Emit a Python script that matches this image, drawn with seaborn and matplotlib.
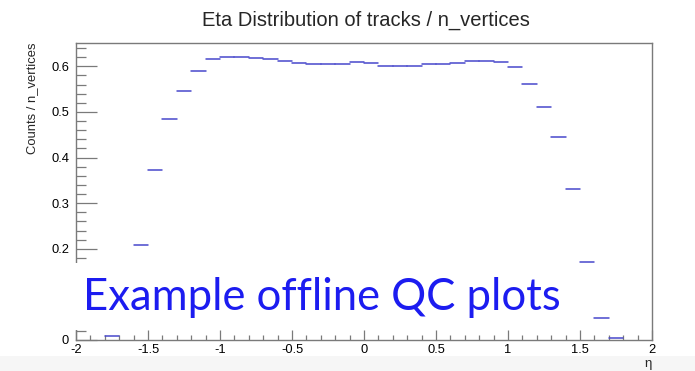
import numpy as np
import pandas as pd
import matplotlib
matplotlib.use("Agg")
import matplotlib.pyplot as plt
from matplotlib.patches import Rectangle
from matplotlib.ticker import MultipleLocator, FuncFormatter
import seaborn as sns

# Track pseudorapidity histogram, normalised to the number of vertices
eta_min = -2.0
eta_max = 2.0
n_bins = 40
counts_per_vertex = [
    0.0, 0.0, 0.008, 0.045, 0.209, 0.373, 0.484, 0.546, 0.589, 0.615,
    0.620, 0.620, 0.619, 0.615, 0.612, 0.608, 0.605, 0.604, 0.604, 0.609,
    0.608, 0.601, 0.601, 0.601, 0.604, 0.606, 0.608, 0.611, 0.611, 0.609,
    0.598, 0.562, 0.510, 0.446, 0.332, 0.172, 0.048, 0.004, 0.0, 0.0,
]
x_ticks = [-2, -1.5, -1, -0.5, 0, 0.5, 1, 1.5, 2]
y_ticks = [0, 0.1, 0.2, 0.3, 0.4, 0.5, 0.6]

title = "Eta Distribution of tracks / n_vertices"
y_title = "Counts / n_vertices"
x_title = "η"
banner_text = "Example offline QC plots"

edges = np.linspace(eta_min, eta_max, n_bins + 1)

# one horizontal segment per filled bin (empty bins are not drawn)
rows = []
for i, v in enumerate(counts_per_vertex):
    if v <= 0:
        continue
    rows.append({"eta": edges[i], "value": v, "bin": i})
    rows.append({"eta": edges[i + 1], "value": v, "bin": i})
df = pd.DataFrame(rows)

sns.set_theme(style="white")
plt.rcParams["font.family"] = ["Liberation Sans", "DejaVu Sans"]
plt.rcParams["axes.unicode_minus"] = False

W, H = 695, 371
fig = plt.figure(figsize=(W / 100, H / 100), dpi=100)
fig.patch.set_facecolor("white")
ax = fig.add_axes([76 / W, 1 - 340 / H, (652 - 76) / W, (340 - 43) / H])

sns.lineplot(data=df, x="eta", y="value", units="bin", estimator=None,
             color="#4848cc", linewidth=1.1, ax=ax, legend=False)

ax.set_xlim(eta_min, eta_max)
ax.set_ylim(0, 0.651)
ax.set_xlabel("")
ax.set_ylabel("")

frame_col = "#7a7a7a"
for s in ax.spines.values():
    s.set_visible(True)
    s.set_color(frame_col)
    s.set_linewidth(1.0)

ax.set_xticks(x_ticks)
ax.set_yticks(y_ticks)
ax.xaxis.set_minor_locator(MultipleLocator(0.1))
ax.yaxis.set_minor_locator(MultipleLocator(0.02))
fmt = FuncFormatter(lambda v, p: f"{v:g}")
ax.xaxis.set_major_formatter(fmt)
ax.yaxis.set_major_formatter(fmt)

ax.tick_params(axis="y", which="major", direction="in", length=15, width=0.9,
               color=frame_col, left=True, right=False, pad=5, labelsize=9.3,
               labelcolor="black")
ax.tick_params(axis="y", which="minor", direction="in", length=7.2, width=0.9,
               color=frame_col, left=True, right=False)
ax.tick_params(axis="x", which="major", direction="in", length=7.2, width=0.9,
               color=frame_col, bottom=True, top=False, pad=3, labelsize=9.3,
               labelcolor="black")
ax.tick_params(axis="x", which="minor", direction="in", length=3.6, width=0.9,
               color=frame_col, bottom=True, top=False)

fig.text(366 / W, 1 - 20 / H, title, ha="center", va="center", fontsize=14.5)
fig.text(32 / W, 1 - 43 / H, y_title, rotation=90, ha="center", va="top",
         fontsize=9.4)
fig.text(652 / W, 1 - 364 / H, x_title, ha="right", va="center", fontsize=9.5)

# light band along the lower edge
fig.add_artist(Rectangle((0, 0), 1, 15 / H, transform=fig.transFigure,
                         facecolor="#f6f6f6", edgecolor="none", zorder=-1))

# white label panel with the banner text
fig.add_artist(Rectangle((0, 1 - 330 / H), 575 / W, (330 - 263) / H,
                         transform=fig.transFigure, facecolor="white",
                         edgecolor="none", zorder=5))
banner = fig.text(83 / W, 1 - 310 / H, banner_text, color="#1c1cf0",
                  fontsize=30, family=["Lato", "DejaVu Sans"],
                  ha="left", va="baseline", zorder=6)
fig.canvas.draw()
w = banner.get_window_extent().width
banner.set_fontsize(30 * 477 / w)

fig.savefig("out.png", dpi=100)
